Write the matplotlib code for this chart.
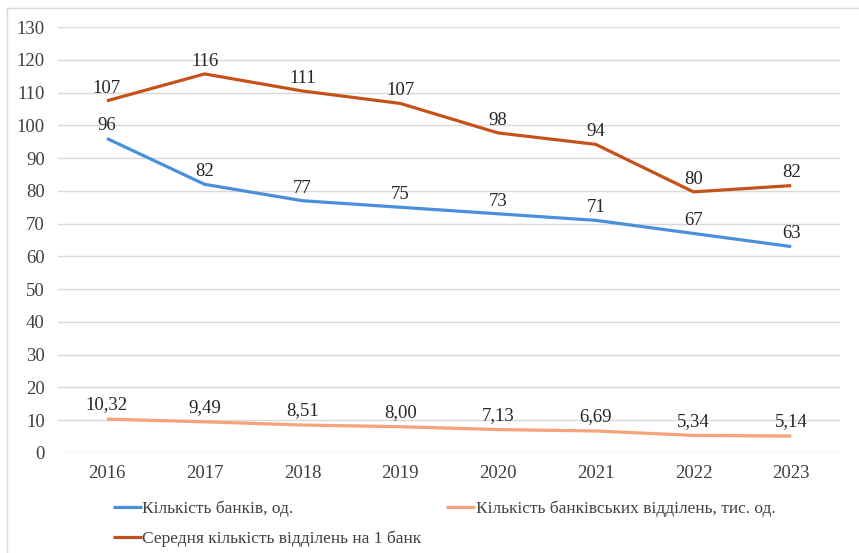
import matplotlib
matplotlib.use("Agg")
import matplotlib.pyplot as plt
from matplotlib.lines import Line2D

# data
years = ["2016", "2017", "2018", "2019", "2020", "2021", "2022", "2023"]
banks = [96, 82, 77, 75, 73, 71, 67, 63]
branches = [10.32, 9.49, 8.51, 8.00, 7.13, 6.69, 5.34, 5.14]
branches_labels = ["10,32", "9,49", "8,51", "8,00", "7,13", "6,69", "5,34", "5,14"]
avg_per_bank = [107.5, 115.7, 110.5, 106.7, 97.7, 94.2, 79.7, 81.6]
avg_labels = ["107", "116", "111", "107", "98", "94", "80", "82"]

plt.rcParams['font.family'] = ['Liberation Serif', 'DejaVu Serif']
fs = 13.5

fig = plt.figure(figsize=(8.59, 5.53), dpi=100)
ax = fig.add_axes([0.0675, 0.181, 0.9105, 0.770])

x = list(range(len(years)))
l1, = ax.plot(x, banks, color='#4a8fdc', linewidth=2.3, solid_capstyle='butt')
l2, = ax.plot(x, branches, color='#f6a27c', linewidth=2.3, solid_capstyle='butt')
l3, = ax.plot(x, avg_per_bank, color='#c4521a', linewidth=2.3, solid_capstyle='butt')

for i in x:
    ax.annotate(str(banks[i]), (i, banks[i]), xytext=(0, 3), textcoords='offset points',
                ha='center', va='bottom', fontsize=fs, color='#262626')
    ax.annotate(branches_labels[i], (i, branches[i]), xytext=(0, 4), textcoords='offset points',
                ha='center', va='bottom', fontsize=fs, color='#262626')
    ax.annotate(avg_labels[i], (i, avg_per_bank[i]), xytext=(0, 3), textcoords='offset points',
                ha='center', va='bottom', fontsize=fs, color='#262626')

ax.set_xlim(-0.5, 7.5)
ax.set_ylim(0, 130)
ax.set_yticks(range(0, 131, 10))
ax.set_xticks(x)
ax.set_xticklabels(years)
ax.tick_params(axis='both', length=0, labelsize=fs, labelcolor='#404040')
ax.tick_params(axis='y', pad=9.5)
ax.tick_params(axis='x', pad=9)
ax.grid(axis='y', color='#d9d9d9', linewidth=1.0)
ax.set_axisbelow(True)
for s in ax.spines.values():
    s.set_visible(False)

leg = fig.legend([l1, l3, l2],
                 ["Кількість банків, од.", "Середня кількість відділень на 1 банк",
                  "Кількість банківських відділень, тис. од."],
                 ncol=2, loc='upper left', bbox_to_anchor=(0.131, 0.095),
                 frameon=False, fontsize=12.5, handlelength=1.67, handletextpad=0.05,
                 columnspacing=1.4, labelspacing=0.78, borderaxespad=0, borderpad=0,
                 labelcolor='#404040')

# outer frame (left and top edges visible)
fig.add_artist(Line2D([0.0085, 0.0085], [0.0, 0.986], color='#d9d9d9', linewidth=1.0))
fig.add_artist(Line2D([0.0085, 1.0], [0.986, 0.986], color='#d9d9d9', linewidth=1.0))

fig.savefig('out.png', dpi=100)
